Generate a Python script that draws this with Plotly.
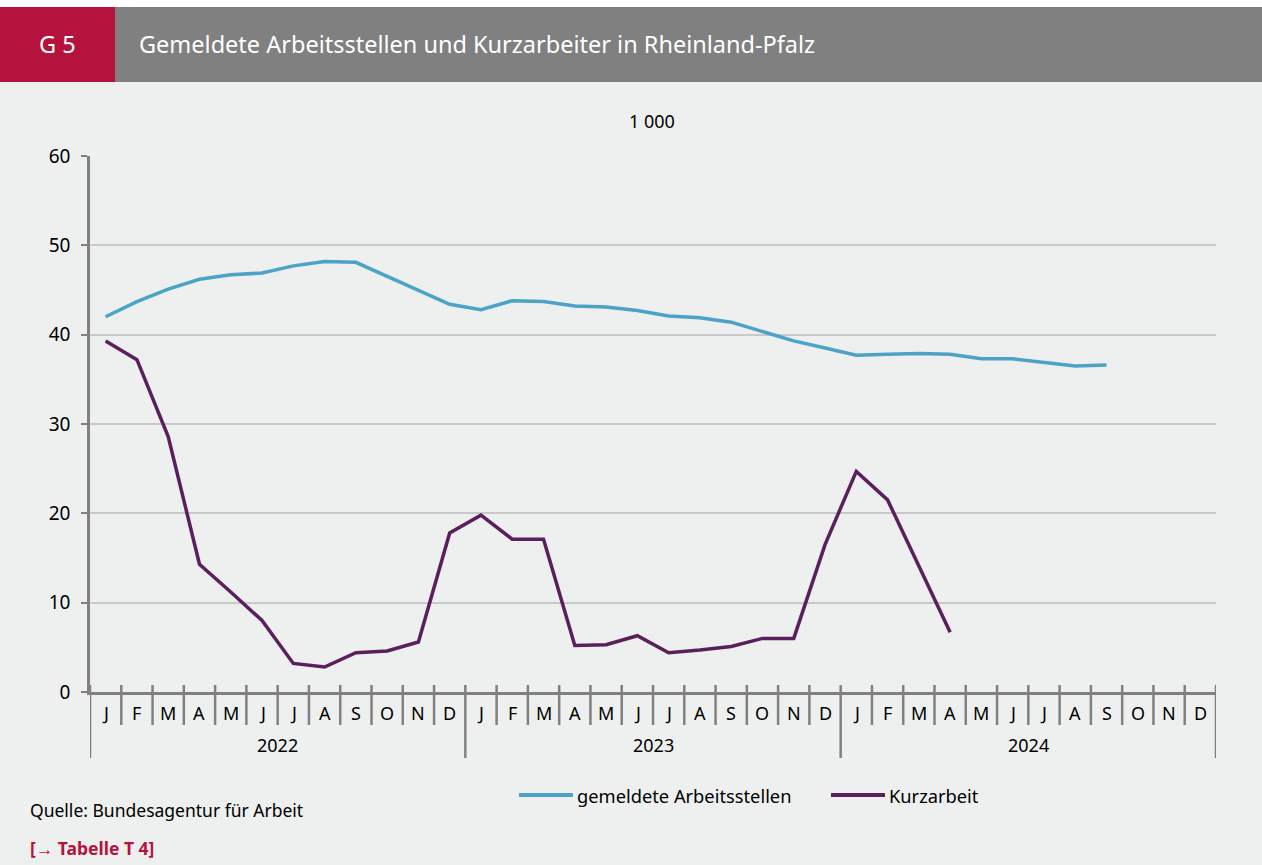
import plotly.graph_objects as go

# Monatswerte Januar 2022 bis Dezember 2024, in 1 000
months = ["J", "F", "M", "A", "M", "J", "J", "A", "S", "O", "N", "D"] * 3
years = ["2022", "2023", "2024"]

arbeitsstellen = [
    42.0, 43.7, 45.1, 46.2, 46.7, 46.9, 47.7, 48.2, 48.1, 46.5, 44.9, 43.4,
    42.8, 43.8, 43.7, 43.2, 43.1, 42.7, 42.1, 41.9, 41.4, 40.3, 39.3, 38.5,
    37.7, 37.8, 37.9, 37.8, 37.3, 37.3, 36.9, 36.5, 36.6, None, None, None,
]
kurzarbeit = [
    39.3, 37.2, 28.6, 14.3, 11.2, 8.0, 3.2, 2.8, 4.4, 4.6, 5.6, 17.8,
    19.8, 17.1, 17.1, 5.2, 5.3, 6.3, 4.4, 4.7, 5.1, 6.0, 6.0, 16.5,
    24.7, 21.5, 14.1, 6.7, None, None, None, None, None, None, None, None,
]

W, H = 1262, 865
L, R, T, B = 90, 1216, 156, 692

BG = "#EEF0EF"
AXIS = "#808080"
GRID = "#C8C8C8"
RED = "#B5133D"
BLUE = "#4BA3C7"
PURPLE = "#5B1F5E"
FONT = "Noto Sans"


def px_x(x):
    return (x - L) / (R - L)


def px_y(y):
    return (B - y) / (B - T)


def label(text, x, y, size=18, color="black", xanchor="center", xref="paper"):
    return dict(text=text, x=x, y=px_y(y), xref=xref, yref="paper", showarrow=False,
                xanchor=xanchor, yanchor="middle", font=dict(family=FONT, size=size, color=color))


fig = go.Figure()
xs = list(range(len(months)))
fig.add_trace(go.Scatter(x=xs, y=arbeitsstellen, mode="lines", name="gemeldete Arbeitsstellen",
                         line=dict(color=BLUE, width=3.5)))
fig.add_trace(go.Scatter(x=xs, y=kurzarbeit, mode="lines", name="Kurzarbeit",
                         line=dict(color=PURPLE, width=3.5)))

shapes = []
# Kopfzeile
shapes.append(dict(type="rect", xref="paper", yref="paper", x0=px_x(0), x1=px_x(W), y0=px_y(7), y1=px_y(-5),
                   fillcolor="white", line_width=0, layer="below"))
shapes.append(dict(type="rect", xref="paper", yref="paper", x0=px_x(0), x1=px_x(115), y0=px_y(82), y1=px_y(7),
                   fillcolor=RED, line_width=0))
shapes.append(dict(type="rect", xref="paper", yref="paper", x0=px_x(115), x1=px_x(W), y0=px_y(82), y1=px_y(7),
                   fillcolor="#808080", line_width=0))
# Monats- und Jahrestrenner
for k in range(len(months) + 1):
    long_tick = k % 12 == 0
    shapes.append(dict(type="line", xref="x", yref="paper", x0=k - 0.5, x1=k - 0.5,
                       y0=px_y(685), y1=px_y(758 if long_tick else 725),
                       line=dict(color=AXIS, width=2.5)))

# Legende (Linienmuster wie im Original, 54 px lang)
legend_items = [("gemeldete Arbeitsstellen", BLUE, 519), ("Kurzarbeit", PURPLE, 831)]
for name, color, x0 in legend_items:
    shapes.append(dict(type="line", xref="paper", yref="paper", x0=px_x(x0), x1=px_x(x0 + 54),
                       y0=px_y(795), y1=px_y(795), line=dict(color=color, width=4)))

annotations = [
    label("G 5", px_x(57), 44, size=23.5, color="white"),
    label("Gemeldete Arbeitsstellen und Kurzarbeiter in Rheinland-Pfalz", px_x(137), 44, size=23.5,
          color="white", xanchor="left"),
    label("1 000", px_x(652), 121),
    label("Quelle: Bundesagentur für Arbeit", px_x(28), 810, size=17.5, xanchor="left"),
    label("<b>[→ Tabelle T 4]</b>", px_x(28), 848, size=17.5, color=RED, xanchor="left"),
]
for name, color, x0 in legend_items:
    annotations.append(label(name, px_x(x0 + 56), 795, size=18.3, xanchor="left"))
for i, m in enumerate(months):
    annotations.append(label(m, i, 713, xref="x"))
for j, yr in enumerate(years):
    annotations.append(label(yr, j * 12 + 5.5, 745, xref="x"))

fig.update_layout(
    width=W, height=H,
    margin=dict(l=L, r=W - R, t=T, b=H - B),
    paper_bgcolor=BG, plot_bgcolor=BG,
    font=dict(family=FONT, size=18, color="black"),
    shapes=shapes,
    annotations=annotations,
    showlegend=False,
    xaxis=dict(range=[-0.5, len(months) - 0.5], showticklabels=False, ticks="", showgrid=False,
               zeroline=False, showline=True, linecolor=AXIS, linewidth=3, fixedrange=True),
    yaxis=dict(range=[0, 60], tickvals=[0, 10, 20, 30, 40, 50, 60], ticks="outside", ticklen=6,
               tickwidth=2, tickcolor=AXIS, showgrid=True, gridcolor=GRID, gridwidth=2,
               tickfont=dict(family=FONT, size=19),
               zeroline=False, showline=True, linecolor=AXIS, linewidth=2.5, ticklabelstandoff=7,
               fixedrange=True),
)

fig.write_html("out.html", config={"displayModeBar": False},
               post_script="document.body.style.margin='0';")
